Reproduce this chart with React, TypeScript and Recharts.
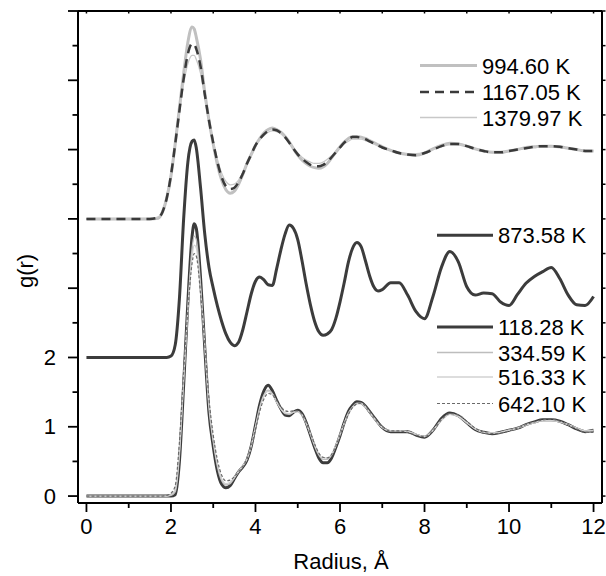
import React from "react";
import { LineChart, Line, XAxis, YAxis } from "recharts";

const FONT = "'Liberation Sans', Arial, sans-serif";

// radius grid (Å), finer around the first peak
const RADIUS = [
  0, 1, 1.5,
  1.7, 1.8, 1.9, 2.0, 2.1, 2.2, 2.3, 2.4, 2.5,
  2.55,
  2.6, 2.7, 2.8, 2.9, 3.0, 3.1, 3.2, 3.3, 3.4, 3.5,
  3.6, 3.7, 3.8, 3.9, 4.0, 4.1, 4.2, 4.3, 4.4, 4.5,
  4.6, 4.7, 4.8, 4.9, 5.0, 5.1, 5.2, 5.3, 5.4, 5.5,
  5.6, 5.7, 5.8, 5.9, 6.0, 6.1, 6.2, 6.3, 6.4, 6.5,
  6.6, 6.7, 6.8, 6.9, 7.0,
  7.2, 7.4, 7.6, 7.8, 8.0,
  8.2, 8.4, 8.6, 8.8, 9.0, 9.2, 9.4, 9.6, 9.8, 10.0,
  10.2, 10.4, 10.6, 10.8, 11.0, 11.2, 11.4, 11.6, 11.8, 12.0,
];

// g(r) curves, unshifted
const G_118 = [
  0, 0, 0,
  0, 0, 0, 0, 0.02, 0.5, 1.6, 2.8, 3.75,
  3.93,
  3.86, 3.15, 2.14, 1.2, 0.72, 0.36, 0.17, 0.12, 0.15, 0.25,
  0.35, 0.42, 0.52, 0.72, 1.02, 1.32, 1.52, 1.6, 1.52, 1.38,
  1.26, 1.17, 1.16, 1.21, 1.24, 1.19, 1.06, 0.88, 0.7, 0.55,
  0.48, 0.48, 0.55, 0.7, 0.87, 1.06, 1.22, 1.31, 1.36, 1.35,
  1.3, 1.22, 1.14, 1.06, 0.99,
  0.93, 0.93, 0.93, 0.88, 0.85,
  0.95, 1.12, 1.2, 1.16, 1.06, 0.96, 0.92, 0.9, 0.92, 0.95,
  0.98, 1.03, 1.07, 1.1, 1.1, 1.08, 1.03, 0.97, 0.93, 0.95,
];
const G_334 = [
  0, 0, 0,
  0, 0, 0, 0.01, 0.06, 0.58, 1.65, 2.72, 3.58,
  3.75,
  3.7, 3.05, 2.16, 1.26, 0.78, 0.42, 0.22, 0.16, 0.18, 0.26,
  0.35, 0.43, 0.53, 0.72, 1.0, 1.28, 1.46, 1.53, 1.48, 1.36,
  1.26, 1.19, 1.18, 1.21, 1.22, 1.17, 1.05, 0.89, 0.72, 0.59,
  0.53, 0.53, 0.59, 0.72, 0.88, 1.05, 1.2, 1.29, 1.34, 1.34,
  1.29, 1.21, 1.13, 1.05, 0.99,
  0.94, 0.94, 0.93, 0.89, 0.86,
  0.95, 1.1, 1.18, 1.15, 1.06, 0.97, 0.92, 0.91, 0.92, 0.95,
  0.98, 1.03, 1.06, 1.09, 1.09, 1.07, 1.03, 0.98, 0.94, 0.95,
];
const G_516 = [
  0, 0, 0,
  0, 0, 0, 0.02, 0.09, 0.65, 1.7, 2.68, 3.46,
  3.62,
  3.58, 2.98, 2.18, 1.32, 0.82, 0.46, 0.25, 0.18, 0.2, 0.27,
  0.36, 0.44, 0.54, 0.73, 1.0, 1.26, 1.44, 1.51, 1.47, 1.36,
  1.26, 1.2, 1.19, 1.21, 1.22, 1.17, 1.05, 0.9, 0.74, 0.61,
  0.55, 0.55, 0.6, 0.73, 0.89, 1.05, 1.19, 1.28, 1.33, 1.33,
  1.29, 1.21, 1.13, 1.05, 0.99,
  0.94, 0.94, 0.93, 0.89, 0.86,
  0.95, 1.09, 1.18, 1.15, 1.06, 0.97, 0.92, 0.91, 0.92, 0.95,
  0.98, 1.02, 1.06, 1.09, 1.09, 1.07, 1.03, 0.98, 0.94, 0.94,
];
const G_642 = [
  0, 0, 0,
  0, 0, 0.01, 0.04, 0.15, 0.78, 1.8, 2.68, 3.36,
  3.5,
  3.46, 2.92, 2.2, 1.4, 0.88, 0.52, 0.3, 0.22, 0.23, 0.28,
  0.35, 0.43, 0.54, 0.72, 0.97, 1.22, 1.4, 1.48, 1.46, 1.38,
  1.29, 1.23, 1.22, 1.23, 1.23, 1.18, 1.06, 0.91, 0.75, 0.62,
  0.56, 0.55, 0.6, 0.72, 0.88, 1.04, 1.18, 1.28, 1.33, 1.34,
  1.3, 1.22, 1.14, 1.06, 1.0,
  0.94, 0.94, 0.92, 0.88, 0.86,
  0.94, 1.1, 1.19, 1.17, 1.08, 0.98, 0.92, 0.9, 0.91, 0.94,
  0.98, 1.03, 1.07, 1.1, 1.11, 1.08, 1.03, 0.97, 0.92, 0.92,
];
const G_873 = [
  0, 0, 0,
  0, 0, 0, 0.02, 0.18, 0.85, 2.0, 2.82, 3.12,
  3.14,
  3.02, 2.45, 1.78, 1.3, 1.0, 0.74, 0.52, 0.34, 0.22, 0.17,
  0.22, 0.4, 0.66, 0.92, 1.1, 1.16, 1.12, 1.05, 1.04, 1.28,
  1.55, 1.78, 1.91, 1.86, 1.7, 1.4, 1.06, 0.76, 0.52, 0.37,
  0.32, 0.34, 0.4, 0.56, 0.8, 1.08, 1.38, 1.58, 1.66, 1.6,
  1.4, 1.18, 1.02, 0.96, 0.98,
  1.08, 1.08, 0.9, 0.66, 0.56,
  0.88, 1.3, 1.53, 1.38, 1.02, 0.9, 0.93, 0.92, 0.8, 0.75,
  0.91, 1.07, 1.17, 1.24, 1.3, 1.14, 0.9, 0.76, 0.75, 0.88,
];
const G_994 = [
  0, 0, 0,
  0.01, 0.1, 0.3, 0.62, 1.08, 1.6, 2.1, 2.55, 2.77,
  2.74,
  2.62, 2.3, 1.82, 1.42, 1.08, 0.78, 0.56, 0.42, 0.37, 0.4,
  0.5, 0.64, 0.8, 0.93, 1.06, 1.16, 1.24, 1.29, 1.31, 1.29,
  1.25, 1.19, 1.11, 1.01, 0.92, 0.85, 0.8, 0.76, 0.74, 0.73,
  0.75, 0.8, 0.88, 0.96, 1.04, 1.11, 1.16, 1.19, 1.19, 1.18,
  1.16, 1.13, 1.1, 1.07, 1.04,
  0.99, 0.95, 0.93, 0.92, 0.95,
  1.01, 1.06, 1.09, 1.08, 1.05, 1.01, 0.98, 0.96, 0.96, 0.98,
  1.0, 1.03, 1.04, 1.05, 1.05, 1.04, 1.02, 1.0, 0.98, 0.98,
];
const G_1167 = [
  0, 0, 0,
  0.02, 0.1, 0.3, 0.63, 1.08, 1.56, 2.02, 2.38, 2.53,
  2.52,
  2.45, 2.2, 1.8, 1.42, 1.1, 0.82, 0.6, 0.47, 0.43, 0.45,
  0.53, 0.65, 0.8, 0.93, 1.06, 1.15, 1.22, 1.27, 1.29, 1.28,
  1.24, 1.18, 1.1, 1.01, 0.93, 0.87, 0.82, 0.78, 0.76, 0.76,
  0.78, 0.82, 0.89, 0.96, 1.03, 1.1, 1.15, 1.18, 1.18, 1.17,
  1.15, 1.12, 1.09, 1.06, 1.03,
  0.99, 0.95, 0.93, 0.92, 0.95,
  1.0, 1.05, 1.08, 1.08, 1.05, 1.01, 0.98, 0.96, 0.96, 0.98,
  1.0, 1.02, 1.04, 1.05, 1.05, 1.04, 1.02, 1.0, 0.98, 0.98,
];
const G_1379 = [
  0, 0, 0,
  0.03, 0.12, 0.33, 0.66, 1.1, 1.55, 1.95, 2.24, 2.36,
  2.36,
  2.3, 2.1, 1.76, 1.42, 1.12, 0.86, 0.66, 0.54, 0.49, 0.5,
  0.56, 0.67, 0.8, 0.93, 1.05, 1.14, 1.2, 1.25, 1.27, 1.26,
  1.23, 1.17, 1.1, 1.02, 0.95, 0.89, 0.85, 0.82, 0.8, 0.8,
  0.82, 0.86, 0.91, 0.97, 1.03, 1.08, 1.12, 1.15, 1.15, 1.15,
  1.13, 1.11, 1.08, 1.05, 1.03,
  0.99, 0.96, 0.94, 0.94, 0.96,
  1.0, 1.04, 1.07, 1.07, 1.05, 1.01, 0.99, 0.97, 0.97, 0.98,
  1.0, 1.02, 1.03, 1.04, 1.04, 1.03, 1.02, 1.0, 0.99, 0.98,
];

// vertical shift of each group of curves
const SHIFT_LOW = 0;
const SHIFT_MID = 2;
const SHIFT_HIGH = 4;

const X_TICKS = [0, 1, 2, 3, 4, 5, 6, 7, 8, 9, 10, 11, 12];
const Y_TICKS = [0, 0.5, 1, 1.5, 2, 2.5, 3, 3.5, 4, 4.5, 5, 5.5, 6, 6.5, 7];
const Y_LABELED = [0, 1, 2];

const series = [
  { key: "t994", name: "994.60 K", values: G_994, shift: SHIFT_HIGH, color: "#c0c0c0", width: 3, dash: undefined },
  { key: "t1379", name: "1379.97 K", values: G_1379, shift: SHIFT_HIGH, color: "#c8c8c8", width: 1.3, dash: undefined },
  { key: "t1167", name: "1167.05 K", values: G_1167, shift: SHIFT_HIGH, color: "#3a3a3a", width: 2.5, dash: "9 6" },
  { key: "t873", name: "873.58 K", values: G_873, shift: SHIFT_MID, color: "#3c3c3c", width: 3, dash: undefined },
  { key: "t118", name: "118.28 K", values: G_118, shift: SHIFT_LOW, color: "#3c3c3c", width: 3, dash: undefined },
  { key: "t334", name: "334.59 K", values: G_334, shift: SHIFT_LOW, color: "#bdbdbd", width: 1.3, dash: undefined },
  { key: "t516", name: "516.33 K", values: G_516, shift: SHIFT_LOW, color: "#d2d2d2", width: 1.3, dash: undefined },
  { key: "t642", name: "642.10 K", values: G_642, shift: SHIFT_LOW, color: "#6a6a6a", width: 1.2, dash: "3 2" },
];

const data = RADIUS.map((r, i) => {
  const row: Record<string, number> = { r };
  series.forEach((s) => {
    row[s.key] = s.values[i] + s.shift;
  });
  return row;
});

const byKey = (k: string) => series.find((s) => s.key === k)!;

const LeftTick = (props: any) => {
  const { x, y, payload } = props;
  const v = payload.value;
  const major = Number.isInteger(v);
  return (
    <g>
      <line x1={x - (major ? 10 : 5.5)} x2={x} y1={y} y2={y} stroke="#000" strokeWidth={1.8} />
      {Y_LABELED.includes(v) && (
        <text x={x - 22} y={y + 7.5} textAnchor="end" fontSize={22} fontFamily={FONT} fill="#000">
          {v}
        </text>
      )}
    </g>
  );
};

const BottomTick = (props: any) => {
  const { x, y, payload } = props;
  const v = payload.value;
  const major = v % 2 === 0;
  return (
    <g>
      <line x1={x} x2={x} y1={y} y2={y + (major ? 9 : 5)} stroke="#000" strokeWidth={1.8} />
      {major && (
        <text x={x} y={y + 31} textAnchor="middle" fontSize={22} fontFamily={FONT} fill="#000">
          {v}
        </text>
      )}
    </g>
  );
};

const RightTick = (props: any) => {
  const { x, y } = props;
  return <line x1={x} x2={x + 3.5} y1={y} y2={y} stroke="#000" strokeWidth={1.5} />;
};

const TopTick = (props: any) => {
  const { x, y } = props;
  return <line x1={x} x2={x} y1={y} y2={y + 2.5} stroke="#000" strokeWidth={1.5} />;
};

function LegendRow({ k, x1, x2, tx, y }: { k: string; x1: number; x2: number; tx: number; y: number }) {
  const s = byKey(k);
  return (
    <g>
      <line x1={x1} x2={x2} y1={y - 8} y2={y - 8} stroke={s.color} strokeWidth={s.width} strokeDasharray={s.dash} />
      <text x={tx} y={y} fontSize={22} fontFamily={FONT} fill="#000">
        {s.name}
      </text>
    </g>
  );
}

export default function App() {
  return (
    <div style={{ position: "absolute", left: 0, top: 0, width: 606, height: 576 }}>
      <LineChart width={606} height={576} data={data} margin={{ top: 0, right: 0, bottom: 0, left: 0 }}>
        <XAxis
          dataKey="r"
          type="number"
          domain={[-0.2, 12.2]}
          allowDataOverflow
          ticks={X_TICKS}
          interval={0}
          height={73}
          tickSize={0}
          tickMargin={0}
          tickLine={false}
          axisLine={{ stroke: "#000", strokeWidth: 2 }}
          tick={<BottomTick />}
        />
        <XAxis
          xAxisId="top"
          orientation="top"
          dataKey="r"
          type="number"
          domain={[-0.2, 12.2]}
          allowDataOverflow
          ticks={X_TICKS}
          interval={0}
          height={11}
          tickSize={0}
          tickMargin={0}
          tickLine={false}
          axisLine={{ stroke: "#000", strokeWidth: 2 }}
          tick={<TopTick />}
        />
        <YAxis
          type="number"
          domain={[-0.1, 7]}
          allowDataOverflow
          ticks={Y_TICKS}
          interval={0}
          width={78}
          tickSize={0}
          tickMargin={0}
          tickLine={false}
          axisLine={{ stroke: "#000", strokeWidth: 2 }}
          tick={<LeftTick />}
        />
        <YAxis
          yAxisId="right"
          orientation="right"
          type="number"
          domain={[-0.1, 7]}
          allowDataOverflow
          ticks={Y_TICKS}
          interval={0}
          width={4}
          tickSize={0}
          tickMargin={0}
          tickLine={false}
          axisLine={{ stroke: "#000", strokeWidth: 2 }}
          tick={<RightTick />}
        />
        {series.map((s) => (
          <Line
            key={s.key}
            dataKey={s.key}
            type="monotone"
            stroke={s.color}
            strokeWidth={s.width}
            strokeDasharray={s.dash}
            dot={false}
            activeDot={false}
            isAnimationActive={false}
          />
        ))}
      </LineChart>
      <svg
        width={606}
        height={576}
        style={{ position: "absolute", left: 0, top: 0, pointerEvents: "none" }}
      >
        <LegendRow k="t994" x1={420} x2={477} tx={482} y={73.5} />
        <LegendRow k="t1167" x1={420} x2={477} tx={482} y={100} />
        <LegendRow k="t1379" x1={420} x2={477} tx={482} y={125.5} />
        <LegendRow k="t873" x1={437} x2={493} tx={498} y={243.3} />
        <LegendRow k="t118" x1={437} x2={493} tx={498} y={335} />
        <LegendRow k="t334" x1={437} x2={493} tx={498} y={360.5} />
        <LegendRow k="t516" x1={437} x2={493} tx={498} y={385} />
        <LegendRow k="t642" x1={437} x2={493} tx={498} y={411.5} />
        <text x={341} y={569} textAnchor="middle" fontSize={22} fontFamily={FONT} fill="#000">
          Radius, Å
        </text>
        <text
          transform="translate(32.5,271) rotate(-90)"
          textAnchor="middle"
          fontSize={22}
          fontFamily={FONT}
          fill="#000"
        >
          g(r)
        </text>
      </svg>
    </div>
  );
}
